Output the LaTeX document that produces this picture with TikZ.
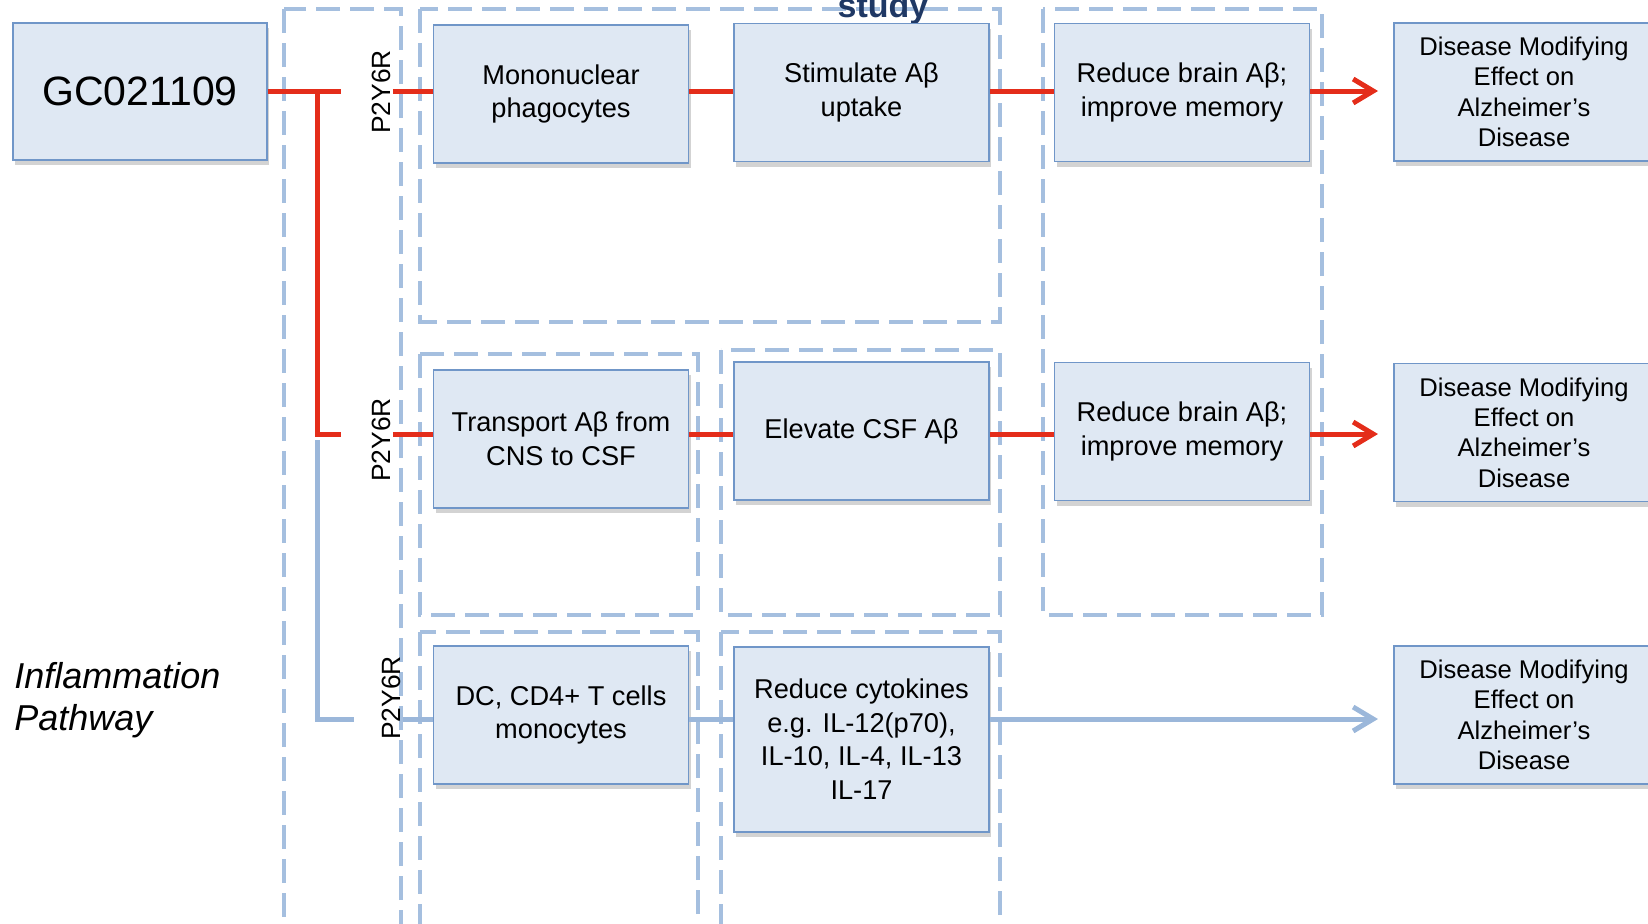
\documentclass[tikz,border=0pt]{standalone}
\usepackage{fontspec}
\setmainfont{Liberation Sans}
\usetikzlibrary{arrows.meta,shadows}

\definecolor{boxfill}{HTML}{DFE8F3}
\definecolor{boxline}{HTML}{7096C8}
\definecolor{dashblue}{HTML}{A5BFDF}
\definecolor{lnred}{HTML}{E42D1A}
\definecolor{lnblue}{HTML}{9BB7DA}
\definecolor{studynavy}{HTML}{1F3864}

\begin{document}
\begin{tikzpicture}[
  x=0.5pt, y=-0.5pt,
  >={Straight Barb[length=10pt,width=12pt]},
  every node/.style={font=\fontsize{13.6}{16.8}\selectfont},
  stepbox/.style={rectangle, draw=boxline, line width=0.8pt, fill=boxfill,
                  minimum width=127.5pt, minimum height=69pt, align=center,
                  drop shadow={shadow xshift=1pt, shadow yshift=-2.5pt,
                               opacity=0.35}},
  outcome/.style={stepbox, minimum width=130pt,
                  font=\fontsize{12.8}{15.2}\selectfont},
  receptor/.style={rotate=90, inner sep=1pt,
                   font=\fontsize{13.2}{14}\selectfont},
  group/.style={draw=dashblue, line width=1.8pt, dash pattern=on 12pt off 5pt},
  redln/.style={draw=lnred, line width=2.5pt},
  blueln/.style={draw=lnblue, line width=2.5pt}
]

\useasboundingbox (0,0) rectangle (1648,923);
\clip (0,0) rectangle (1648,923);

\def\rowA{91}
\def\rowB{434}
\def\rowC{719}
\def\colA{561}
\def\colB{861.5}
\def\colC{1182}
\def\colD{1524}

\draw[group] (284,9)   rectangle (401,940);
\draw[group] (420,9)   rectangle (1000,322);
\draw[group] (1043,9)  rectangle (1322,615);
\draw[group] (420,354) rectangle (698,615);
\draw[group] (721,350) rectangle (1000,615);
\draw[group] (420,632) rectangle (698,940);
\draw[group] (721,632) rectangle (1000,940);

\node[font=\bfseries\fontsize{17}{20}\selectfont, text=studynavy, anchor=base]
     at (883,17) (study) {study};

\node[stepbox, minimum width=127pt, minimum height=68.5pt,
      font=\fontsize{20.5}{24}\selectfont] at (140,91.5) (gc) {GC021109};

\node[stepbox] at (\colA,94)   (mono)    {Mononuclear\\phagocytes};
\node[stepbox] at (\colB,92.5) (stim)    {Stimulate Aβ\\uptake};
\node[stepbox] at (\colC,92.5) (reduceA) {Reduce brain Aβ;\\improve memory};
\node[outcome] at (\colD,92)   (diseaseA) {Disease Modifying\\Effect on\\Alzheimer’s\\Disease};

\node[stepbox] at (\colA,439)   (transport) {Transport Aβ from\\CNS to CSF};
\node[stepbox] at (\colB,431)   (elevate)   {Elevate CSF Aβ};
\node[stepbox] at (\colC,431.5) (reduceB)   {Reduce brain Aβ;\\improve memory};
\node[outcome] at (\colD,432.5) (diseaseB)  {Disease Modifying\\Effect on\\Alzheimer’s\\Disease};

\node[stepbox] at (\colA,715) (dc) {DC, CD4+ T cells\\monocytes};
\node[stepbox, minimum height=92.5pt, anchor=north] at (\colB,646) (cytokines)
     {Reduce cytokines\\e.g. IL-12(p70),\\IL-10, IL-4, IL-13\\IL-17};
\node[outcome] at (\colD,715) (diseaseC) {Disease Modifying\\Effect on\\Alzheimer’s\\Disease};

\node[receptor] at (381,92)  (rcpA) {P2Y6R};
\node[receptor] at (381,440) (rcpB) {P2Y6R};
\node[receptor] at (391,698) (rcpC) {P2Y6R};

\node[anchor=west, align=left, inner sep=0pt,
      font=\itshape\fontsize{18}{21}\selectfont] at (14,700) (pathway)
     {Inflammation\\Pathway};

\coordinate (jA) at (317,\rowA);
\coordinate (jB) at (317,\rowB);
\coordinate (jC) at (317,\rowC);
\coordinate (gA) at (341,\rowA);
\coordinate (gB) at (341,\rowB);
\coordinate (gC) at (354,\rowC);
\coordinate (bC) at (317,440);
\coordinate (tipA) at (1378,\rowA);
\coordinate (tipB) at (1378,\rowB);
\coordinate (tipC) at (1378,\rowC);

\draw[redln] (gc.east |- jA) -- (gA);
\draw[redln] (jA) -- (jB) -- (gB);
\draw[redln] (rcpA.south |- jA) -- (mono.west |- jA);
\draw[redln] (mono.east |- jA) -- (stim.west |- jA);
\draw[redln] (stim.east |- jA) -- (reduceA.west |- jA);
\draw[redln, ->] (reduceA.east |- jA) -- (tipA);

\draw[redln] (rcpB.south |- jB) -- (transport.west |- jB);
\draw[redln] (transport.east |- jB) -- (elevate.west |- jB);
\draw[redln] (elevate.east |- jB) -- (reduceB.west |- jB);
\draw[redln, ->] (reduceB.east |- jB) -- (tipB);

\draw[blueln] (bC) -- (jC) -- (gC);
\draw[blueln] (rcpC.south |- jC) -- (dc.west |- jC);
\draw[blueln] (dc.east |- jC) -- (cytokines.west |- jC);
\draw[blueln, ->] (cytokines.east |- jC) -- (tipC);

\end{tikzpicture}
\end{document}
